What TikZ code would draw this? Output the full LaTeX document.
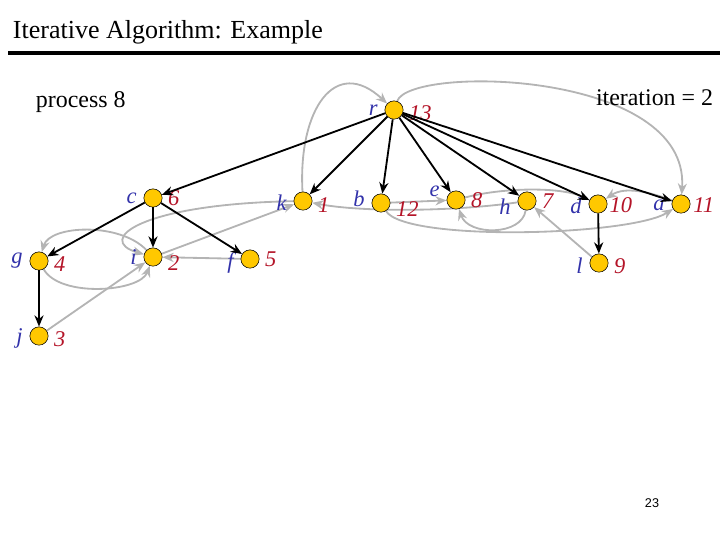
\documentclass[tikz,border=0pt]{standalone}
\usepackage{fontspec}
\setmainfont{Liberation Serif}
\newfontfamily\pagefont{Liberation Sans}
\usetikzlibrary{arrows.meta,backgrounds}
\definecolor{vgold}{RGB}{255,200,0}
\definecolor{nameblue}{RGB}{50,50,170}
\definecolor{numred}{RGB}{180,20,40}
\definecolor{edgegray}{RGB}{180,180,180}

\begin{document}
\begin{tikzpicture}[x=0.025cm, y=-0.025cm,
    vtx/.style={circle, draw, fill=vgold, minimum size=13pt, inner sep=0pt},
    nm/.style={text=nameblue, font=\fontsize{16}{16}\selectfont\itshape, label distance=1.5pt},
    nr/.style={text=numred, font=\fontsize{16}{16}\selectfont\itshape, label distance=0.5pt},
    tree/.style={-{Stealth[length=8pt,width=6.5pt]}, line width=1.3pt},
    back/.style={-{Stealth[length=8pt,width=6.5pt]}, line width=1.3pt, draw=edgegray}]
  \useasboundingbox (0,0) rectangle (720,540);

  % title and rule
  \node [anchor=west, font=\fontsize{18.5}{18.5}\selectfont] (title) at (8,32) {Iterative Algorithm: Example};
  \draw [line width=2.2pt] (8,53) -- (720,53);
  \node [anchor=west, font=\fontsize{17}{17}\selectfont] (proc) at (31,102) {process 8};
  \node [anchor=east, font=\fontsize{17}{17}\selectfont] (iter) at (718,98) {iteration = 2};
  \node [font=\pagefont\fontsize{9}{9}\selectfont] (page) at (652,503) {23};

  % vertices
  \node [vtx, label={[nm]left:r}, label={[nr,yshift=-2pt]right:13}] (r) at (394,110) {};
  \node [vtx, label={[nm]left:c}, label={[nr]right:6}] (c) at (153,198) {};
  \node [vtx, label={[nm]left:g}, label={[nr,yshift=-2pt]right:4}] (g) at (39,261) {};
  \node [vtx, label={[nm,yshift=-2pt]left:j}, label={[nr,yshift=-2pt]right:3}] (j) at (39,336) {};
  \node [vtx, label={[nm]left:i}, label={[nr,yshift=-4pt]right:2}] (i) at (153,257) {};
  \node [vtx, label={[nm,yshift=-3pt]left:f}, label={[nr]right:5}] (f) at (250,259) {};
  \node [vtx, label={[nm,yshift=-1pt]left:k}, label={[nr,yshift=-3pt]right:1}] (k) at (303,201) {};
  \node [vtx, label={[nm,yshift=3pt]left:b}, label={[nr,yshift=-4pt]right:12}] (b) at (381,203) {};
  \node [vtx, label={[nm,yshift=6pt]left:e}, label={[nr]right:8}] (e) at (456,200) {};
  \node [vtx, label={[nm,yshift=-4pt]left:h}, label={[nr]right:7}] (h) at (527,201) {};
  \node [vtx, label={[nm,yshift=-1pt]left:d}, label={[nr,label distance=-2pt,yshift=-1pt]right:10}] (d) at (598,204) {};
  \node [vtx, label={[nm,yshift=-1pt]left:a}, label={[nr,label distance=-1.5pt,yshift=-1pt]right:11}] (a) at (681,204) {};
  \node [vtx, label={[nm,yshift=-2pt]left:l}, label={[nr,yshift=-2pt]right:9}] (l) at (599,263) {};

  % graph edges
  \begin{pgfonlayer}{background}
    \draw [back] (k) .. controls (298,110) and (335,55) .. (r);
    \draw [back] (r) .. controls (410,65) and (690,70) .. (a);
    \draw [back] (h) .. controls (450,212) and (360,212) .. (k);
    \draw [back] (b) -- (e);
    \draw [back] (e) .. controls (500,188) and (560,186) .. (d);
    \draw [back] (h) .. controls (522,236) and (468,236) .. (e);
    \draw [back] (a) .. controls (650,192) and (625,186) .. (d);
    \draw [back] (b) .. controls (405,242) and (630,236) .. (a);
    \draw [back] (l) -- (h);
    \draw [back] (i) -- (k);
    \draw [back] (f) -- (i);
    \draw [back] (k) .. controls (140,204) and (95,240) .. (i);
    \draw [back] (i) .. controls (120,222) and (50,225) .. (g);
    \draw [back] (g) .. controls (60,298) and (140,292) .. (i);
    \draw [back] (j) -- (i);
  \end{pgfonlayer}

  % tree edges
  \foreach \t in {c,k,b,e,h,d,a}
    \draw [tree] (r) -- (\t);
  \foreach \t in {g,i,f}
    \draw [tree] (c) -- (\t);
  \draw [tree] (g) -- (j);
  \draw [tree] (d) -- (l);
\end{tikzpicture}
\end{document}
